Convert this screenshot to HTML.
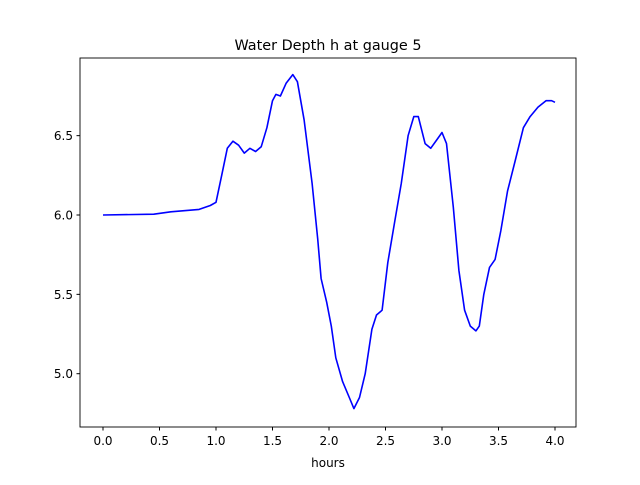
<!DOCTYPE html>
<html><head><meta charset="utf-8"><style>
body{margin:0;background:#fff;}
svg text{font-family:"DejaVu Sans","Liberation Sans",sans-serif;}
</style></head><body>
<svg width="640" height="480" xmlns="http://www.w3.org/2000/svg">
<rect width="640" height="480" fill="#fff"/>
<text x="328" y="50" font-size="14.4" text-anchor="middle">Water Depth h at gauge 5</text>
<g id="xt"></g>
<g id="yt"></g>
<path id="line" fill="none" stroke="#0000ff" stroke-width="1.6" stroke-linejoin="round"/>
<rect x="80" y="58" width="496" height="369" fill="none" stroke="#000" stroke-width="0.9"/>
<text x="328" y="467" font-size="12" text-anchor="middle">hours</text>
</svg>
<script>
const times=[0,0.45,0.6,0.85,0.95,1.0,1.05,1.1,1.15,1.2,1.25,1.3,1.35,1.4,1.45,1.5,1.53,1.57,1.62,1.68,1.72,1.78,1.85,1.9,1.93,1.98,2.02,2.06,2.12,2.18,2.22,2.27,2.32,2.38,2.42,2.47,2.52,2.58,2.64,2.7,2.75,2.79,2.85,2.9,2.95,3.0,3.04,3.1,3.15,3.2,3.25,3.3,3.33,3.37,3.42,3.47,3.52,3.58,3.65,3.72,3.78,3.85,3.92,3.97,4.0];
const depths=[6.0,6.005,6.02,6.035,6.06,6.08,6.25,6.42,6.465,6.44,6.39,6.42,6.40,6.43,6.55,6.72,6.76,6.75,6.83,6.885,6.84,6.6,6.2,5.85,5.6,5.45,5.3,5.1,4.95,4.85,4.78,4.85,5.0,5.28,5.37,5.4,5.7,5.95,6.2,6.5,6.62,6.62,6.45,6.42,6.47,6.52,6.45,6.05,5.65,5.4,5.3,5.27,5.3,5.5,5.67,5.72,5.9,6.15,6.35,6.55,6.62,6.68,6.72,6.72,6.71];
const xTicks=[0,0.5,1,1.5,2,2.5,3,3.5,4];
const xTickLabels=["0.0","0.5","1.0","1.5","2.0","2.5","3.0","3.5","4.0"];
const yTicks=[5,5.5,6,6.5];
const yTickLabels=["5.0","5.5","6.0","6.5"];
const X=t=>103+t*113;
const Y=h=>215-(h-6)*158.7;
const NS="http://www.w3.org/2000/svg";
const xt=document.getElementById('xt'),yt=document.getElementById('yt');
xTicks.forEach((v,i)=>{
 const l=document.createElementNS(NS,'line');
 l.setAttribute('x1',X(v));l.setAttribute('x2',X(v));l.setAttribute('y1',427);l.setAttribute('y2',430.5);l.setAttribute('stroke','#000');
 
 
 xt.appendChild(l);
 const t=document.createElementNS(NS,'text');
 t.setAttribute('x',X(v));t.setAttribute('y',445);t.setAttribute('font-size','12');t.setAttribute('text-anchor','middle');
 t.textContent=xTickLabels[i];
 
 
 xt.appendChild(t);
});
yTicks.forEach((v,i)=>{
 const l=document.createElementNS(NS,'line');
 l.setAttribute('x1',76.5);l.setAttribute('x2',80);l.setAttribute('y1',Y(v));l.setAttribute('y2',Y(v));l.setAttribute('stroke','#000');
 
 
 yt.appendChild(l);
 const t=document.createElementNS(NS,'text');
 t.setAttribute('x',73);t.setAttribute('y',Y(v)+4.5);t.setAttribute('font-size','12');t.setAttribute('text-anchor','end');
 t.textContent=yTickLabels[i];
 
 
 yt.appendChild(t);
});
document.getElementById('line').setAttribute('d',times.map((t,i)=>(i?'L':'M')+X(t).toFixed(1)+','+Y(depths[i]).toFixed(1)).join(''));
</script>
</body></html>
